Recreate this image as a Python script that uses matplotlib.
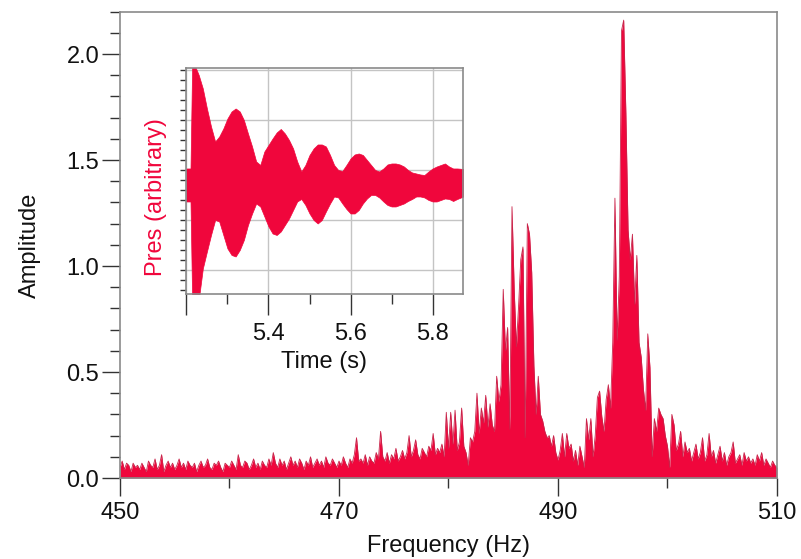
import numpy as np
import matplotlib
matplotlib.use('Agg')
import matplotlib.pyplot as plt
from matplotlib.ticker import MultipleLocator, FixedLocator, FormatStrFormatter

plt.rcParams['font.family'] = ['Liberation Sans', 'DejaVu Sans']

RED = '#f0063c'
GRAY = '#8a8a8a'
FS = 17

# spectrum, 450 -> 510 Hz in 0.2 Hz steps
f_start = 450.0
f_step = 0.2
amplitude = [
    0.05, 0.08, 0.04, 0.07, 0.06, 0.03, 0.07, 0.05, 0.06, 0.04,
    0.07, 0.05, 0.03, 0.08, 0.06, 0.05, 0.09, 0.04, 0.06, 0.11,
    0.03, 0.06, 0.08, 0.05, 0.07, 0.04, 0.06, 0.09, 0.05, 0.07,
    0.04, 0.08, 0.06, 0.05, 0.07, 0.03, 0.06, 0.08, 0.05, 0.06,
    0.09, 0.05, 0.04, 0.07, 0.06, 0.08, 0.05, 0.03, 0.07, 0.06,
    0.05, 0.08, 0.06, 0.04, 0.11, 0.06, 0.05, 0.08, 0.07, 0.04,
    0.06, 0.09, 0.05, 0.07, 0.04, 0.08, 0.06, 0.05, 0.09, 0.06,
    0.12, 0.07, 0.05, 0.09, 0.06, 0.08, 0.04, 0.07, 0.10, 0.06,
    0.08, 0.05, 0.09, 0.07, 0.04, 0.08, 0.06, 0.10, 0.05, 0.07,
    0.09, 0.06, 0.08, 0.05, 0.10, 0.07, 0.06, 0.09, 0.07, 0.05,
    0.08, 0.06, 0.10, 0.07, 0.05, 0.09, 0.07, 0.11, 0.19, 0.08,
    0.09, 0.07, 0.11, 0.06, 0.10, 0.08, 0.07, 0.12, 0.09, 0.22,
    0.10, 0.08, 0.12, 0.07, 0.11, 0.09, 0.14, 0.08, 0.10, 0.13,
    0.09, 0.12, 0.20, 0.10, 0.13, 0.18, 0.11, 0.09, 0.14, 0.12,
    0.10, 0.15, 0.13, 0.21, 0.11, 0.14, 0.12, 0.16, 0.10, 0.31,
    0.14, 0.31, 0.16, 0.32, 0.13, 0.17, 0.33, 0.15, 0.12, 0.06,
    0.19, 0.17, 0.22, 0.40, 0.21, 0.33, 0.26, 0.39, 0.24, 0.35,
    0.25, 0.22, 0.48, 0.36, 0.44, 0.89, 0.60, 0.71, 0.23, 1.28,
    0.89, 0.62, 0.81, 1.03, 1.09, 0.19, 1.20, 1.15, 0.97, 0.53,
    0.30, 0.48, 0.30, 0.27, 0.22, 0.19, 0.20, 0.15, 0.20, 0.12,
    0.085, 0.13, 0.21, 0.10, 0.21, 0.14, 0.16, 0.08, 0.13, 0.06,
    0.15, 0.10, 0.05, 0.28, 0.18, 0.28, 0.10, 0.20, 0.38, 0.41,
    0.29, 0.22, 0.37, 0.44, 0.33, 0.64, 1.32, 0.65, 0.95, 2.11,
    2.16, 1.72, 1.17, 1.03, 1.15, 0.82, 1.05, 0.64, 0.57, 0.42,
    0.32, 0.68, 0.52, 0.10, 0.28, 0.22, 0.33, 0.30, 0.28, 0.20,
    0.15, 0.05, 0.30, 0.25, 0.13, 0.16, 0.22, 0.10, 0.17, 0.12,
    0.14, 0.08, 0.12, 0.16, 0.09, 0.12, 0.19, 0.08, 0.11, 0.21,
    0.10, 0.13, 0.07, 0.11, 0.15, 0.08, 0.12, 0.06, 0.10, 0.12,
    0.17, 0.07, 0.09, 0.11, 0.06, 0.12, 0.08, 0.10, 0.07, 0.09,
    0.06, 0.11, 0.08, 0.12, 0.06, 0.09, 0.07, 0.05, 0.08, 0.06,
    0.05,
]
freq = f_start + f_step * np.arange(len(amplitude))

# inset waveform envelope (time in s, pressure arbitrary)
time_s = [5.200, 5.210, 5.214, 5.220, 5.230, 5.240, 5.250, 5.260, 5.270, 5.280,
          5.290, 5.300, 5.310, 5.320, 5.330, 5.340, 5.350, 5.360, 5.370, 5.380,
          5.390, 5.400, 5.410, 5.420, 5.430, 5.440, 5.450, 5.460, 5.470, 5.480,
          5.490, 5.500, 5.510, 5.520, 5.530, 5.540, 5.550, 5.560, 5.570, 5.580,
          5.590, 5.600, 5.610, 5.620, 5.630, 5.640, 5.650, 5.660, 5.670, 5.680,
          5.690, 5.700, 5.710, 5.720, 5.730, 5.740, 5.750, 5.760, 5.770, 5.780,
          5.790, 5.800, 5.810, 5.820, 5.830, 5.840, 5.850, 5.860, 5.875]
pres_upper = [0.03, 0.03, 2.10, 2.10, 1.90, 1.63, 1.23, 0.87, 0.57, 0.67,
              0.83, 1.03, 1.17, 1.23, 1.17, 1.00, 0.73, 0.47, 0.17, 0.10,
              0.37, 0.50, 0.63, 0.75, 0.82, 0.73, 0.60, 0.43, 0.17, -0.03,
              0.10, 0.30, 0.43, 0.51, 0.51, 0.47, 0.30, 0.10, 0.00, -0.02,
              0.10, 0.23, 0.31, 0.33, 0.30, 0.20, 0.10, 0.00, -0.03, 0.03,
              0.11, 0.13, 0.13, 0.11, 0.07, 0.00, -0.05, -0.07, -0.09, -0.10,
              -0.03, 0.03, 0.07, 0.10, 0.13, 0.07, 0.03, 0.03, 0.02]
pres_lower = [-0.63, -0.63, -2.60, -2.60, -2.60, -1.97, -1.63, -1.30, -1.00, -1.03,
              -1.30, -1.57, -1.70, -1.73, -1.60, -1.40, -1.10, -0.87, -0.67, -0.73,
              -0.93, -1.13, -1.27, -1.30, -1.23, -1.10, -0.97, -0.80, -0.63, -0.58,
              -0.70, -0.87, -1.00, -1.07, -1.00, -0.83, -0.67, -0.53, -0.55, -0.67,
              -0.78, -0.87, -0.87, -0.80, -0.67, -0.57, -0.50, -0.50, -0.55, -0.63,
              -0.70, -0.73, -0.73, -0.70, -0.67, -0.62, -0.58, -0.53, -0.53, -0.55,
              -0.60, -0.63, -0.63, -0.60, -0.57, -0.58, -0.62, -0.58, -0.53]

fig = plt.figure(figsize=(8.01, 5.59), dpi=100)

# main spectrum
ax = fig.add_axes([0.1498, 0.1449, 0.8202, 0.8343])
ax.fill_between(freq, 0, amplitude, color=RED, lw=0)
ax.plot(freq, amplitude, color='#c8244a', lw=0.6)
ax.set_xlim(450, 510)
ax.set_ylim(0, 2.2)
ax.xaxis.set_major_locator(FixedLocator([450, 470, 490, 510]))
ax.xaxis.set_minor_locator(FixedLocator([460, 480, 500]))
ax.yaxis.set_major_locator(MultipleLocator(0.5))
ax.yaxis.set_minor_locator(MultipleLocator(0.1))
ax.yaxis.set_major_formatter(FormatStrFormatter('%.1f'))
ax.tick_params(which='major', length=13, width=1, color='#333333', labelsize=FS,
               labelcolor='#111111')
ax.tick_params(axis='x', which='major', pad=4)
ax.tick_params(axis='y', which='major', pad=2)
ax.tick_params(which='minor', length=7, width=1, color='#333333')
for s in ax.spines.values():
    s.set_color(GRAY)
    s.set_linewidth(1.2)
ax.set_xlabel('Frequency (Hz)', fontsize=FS, color='#111111', labelpad=8)
ax.set_ylabel('Amplitude', fontsize=FS, color='#111111', labelpad=18)

# inset waveform
ins = fig.add_axes([0.2322, 0.4741, 0.3458, 0.4043])
ins.fill_between(time_s, pres_lower, pres_upper, color=RED, lw=0.5, edgecolor=RED)
ins.set_xlim(5.199, 5.874)
ins.set_ylim(-2.48, 2.04)
ins.xaxis.set_major_locator(FixedLocator([5.2, 5.4, 5.6, 5.8]))
ins.xaxis.set_minor_locator(FixedLocator([5.3, 5.5, 5.7]))
ins.set_xticklabels(['', '5.4', '5.6', '5.8'])
ins.yaxis.set_major_locator(MultipleLocator(1))
ins.yaxis.set_minor_locator(MultipleLocator(0.2))
ins.set_yticklabels([])
ins.grid(True, which='major', color='#c4c4c4', lw=1)
ins.set_axisbelow(True)
ins.tick_params(axis='x', which='major', length=15, width=1, color='#333333',
                labelsize=FS, labelcolor='#111111', pad=6)
ins.tick_params(axis='x', which='minor', length=7, width=1, color='#333333')
ins.tick_params(axis='y', which='both', length=4, width=1, color='#333333')
for s in ins.spines.values():
    s.set_color(GRAY)
    s.set_linewidth(1.2)
ins.set_xlabel('Time (s)', fontsize=FS, color='#111111', labelpad=4)
ins.set_ylabel('Pres (arbitrary)', fontsize=FS, color=RED)
ins.yaxis.set_label_coords(-0.07, 0.43)

fig.savefig('out.png', dpi=100)
